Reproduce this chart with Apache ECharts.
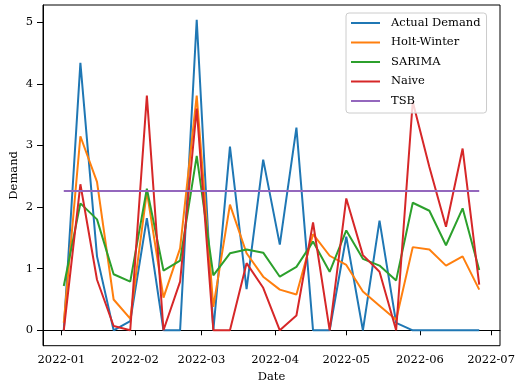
<!DOCTYPE html>
<html>
<head>
<meta charset="utf-8">
<script src="https://cdn.jsdelivr.net/npm/echarts@6/dist/echarts.min.js"></script>
<style>
html,body{margin:0;padding:0;background:#fff;}
#c{width:516px;height:389px;}
</style>
</head>
<body>
<div id="c"></div>
<script>
const dates = ['2022-01-02','2022-01-09','2022-01-16','2022-01-23','2022-01-30','2022-02-06','2022-02-13','2022-02-20','2022-02-27','2022-03-06','2022-03-13','2022-03-20','2022-03-27','2022-04-03','2022-04-10','2022-04-17','2022-04-24','2022-05-01','2022-05-08','2022-05-15','2022-05-22','2022-05-29','2022-06-05','2022-06-12','2022-06-19','2022-06-26'];
const actualDemand = [0, 4.34, 1.20, 0, 0.15, 1.82, 0, 0, 5.04, 0, 2.98, 0.67, 2.77, 1.39, 3.29, 0, 0, 1.52, 0, 1.78, 0.12, 0, 0, 0, 0, 0];
const holtWinter = [0.12, 3.15, 2.41, 0.50, 0.19, 2.25, 0.53, 1.33, 3.81, 0.38, 2.04, 1.25, 0.87, 0.66, 0.58, 1.56, 1.21, 1.06, 0.63, 0.40, 0.17, 1.35, 1.31, 1.05, 1.20, 0.66];
const sarima = [0.72, 2.06, 1.80, 0.91, 0.79, 2.30, 0.97, 1.13, 2.83, 0.89, 1.25, 1.31, 1.26, 0.87, 1.03, 1.44, 0.95, 1.62, 1.16, 1.05, 0.81, 2.07, 1.94, 1.38, 1.98, 0.98];
const naive = [0, 2.37, 0.82, 0.07, 0, 3.81, 0, 0.79, 3.60, 0, 0, 1.09, 0.69, 0, 0.24, 1.75, 0, 2.14, 1.22, 0.95, 0, 3.71, 2.65, 1.68, 2.95, 0.74];
const tsb = [2.26, 2.26, 2.26, 2.26, 2.26, 2.26, 2.26, 2.26, 2.26, 2.26, 2.26, 2.26, 2.26, 2.26, 2.26, 2.26, 2.26, 2.26, 2.26, 2.26, 2.26, 2.26, 2.26, 2.26, 2.26, 2.26];
const tickDates = ['2022-01-01','2022-02-01','2022-03-01','2022-04-01','2022-05-01','2022-06-01','2022-07-01'];
const tickLabels = ['2022-01','2022-02','2022-03','2022-04','2022-05','2022-06','2022-07'];
const yTicks = [0, 1, 2, 3, 4, 5];
const seriesNames = ['Actual Demand','Holt-Winter','SARIMA','Naive','TSB'];
const colors = ['#1f77b4','#ff7f0e','#2ca02c','#d62728','#9467bd'];

const ts = s => Date.parse(s + 'T00:00:00Z');
const span = ts(dates[dates.length-1]) - ts(dates[0]);
const xMin = ts(dates[0]) - span*0.05;
const xMax = ts(dates[dates.length-1]) + span*0.05;
const tickTs = tickDates.map(ts);

const FONT = 'DejaVu Serif';
const allData = [actualDemand, holtWinter, sarima, naive, tsb];
const series = allData.map((arr, k) => ({
  name: seriesNames[k],
  type: 'line',
  symbol: 'none',
  animation: false,
  lineStyle: {width: 2, color: colors[k]},
  itemStyle: {color: colors[k]},
  data: arr.map((v, i) => [ts(dates[i]), v])
}));

const chart = echarts.init(document.getElementById('c'), null, {renderer: 'canvas'});
chart.setOption({
  animation: false,
  backgroundColor: '#fff',
  grid: {left: 43, right: 16, top: 5, bottom: 43.3, show: true, borderColor: '#000', borderWidth: 1, containLabel: false, outerBoundsMode: 'none'},
  legend: {
    data: seriesNames,
    orient: 'vertical',
    left: 346, top: 13,
    itemWidth: 29, itemHeight: 12, itemGap: 7.5,
    padding: [4, 6, 6, 4],
    backgroundColor: 'rgba(255,255,255,0.8)',
    borderColor: '#cccccc', borderWidth: 1, borderRadius: 3,
    itemStyle: {opacity: 0},
    lineStyle: {width: 2},
    textStyle: {fontFamily: FONT, fontSize: 11.5, color: '#000', padding: [0, 0, 0, 6]}
  },
  xAxis: {
    type: 'value',
    min: xMin, max: xMax,
    name: 'Date', nameLocation: 'middle', nameGap: 25, nameMoveOverlap: false,
    nameTextStyle: {fontFamily: FONT, fontSize: 11.5, color: '#000'},
    axisLine: {show: true, lineStyle: {color: '#000', width: 1}},
    axisTick: {show: true, length: 5, lineStyle: {color: '#000', width: 1}, customValues: tickTs},
    axisLabel: {fontFamily: FONT, fontSize: 11.5, color: '#000', margin: 8, customValues: tickTs,
      formatter: function (v) { const i = tickTs.indexOf(v); return i >= 0 ? tickLabels[i] : ''; }},
    splitLine: {show: false}
  },
  yAxis: {
    type: 'value',
    min: -0.25, max: 5.28,
    name: 'Demand', nameLocation: 'middle', nameGap: 23, nameRotate: 90, nameMoveOverlap: false,
    nameTextStyle: {fontFamily: FONT, fontSize: 11.5, color: '#000'},
    axisLine: {show: true, lineStyle: {color: '#000', width: 1}},
    axisTick: {show: true, length: 6, lineStyle: {color: '#000', width: 1}, customValues: yTicks},
    axisLabel: {fontFamily: FONT, fontSize: 11.5, color: '#000', margin: 10, customValues: yTicks,
      formatter: function (v) { return String(v); }},
    splitLine: {show: false}
  },
  series: series
});
</script>
</body>
</html>
